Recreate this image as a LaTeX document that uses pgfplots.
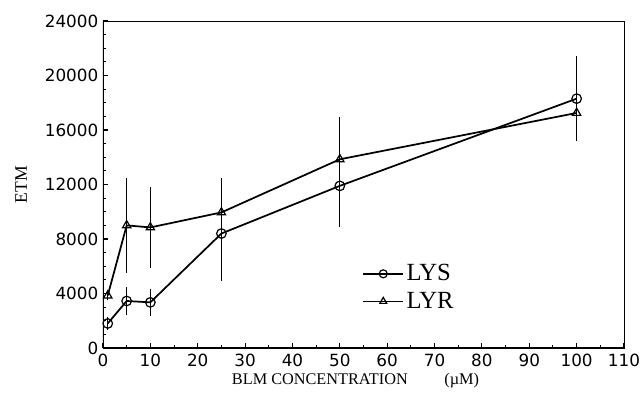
\documentclass[border=0pt]{standalone}
\usepackage{pgfplots}
\pgfplotsset{compat=1.18}
\usepackage{fontspec}
\setmainfont{Liberation Serif}
\newfontfamily\tickfont{DejaVu Sans}
\begin{document}
\begin{tikzpicture}
\begin{axis}[
  at={(0,0)}, anchor=south west,
  scale only axis,
  width=390.75pt, height=245.25pt,
  xmin=0, xmax=110, ymin=0, ymax=24000,
  xtick={0,10,...,110}, minor x tick num=1,
  ytick={0,4000,...,24000}, minor y tick num=3,
  tick pos=left, tick align=inside,
  major tick length=4pt, minor tick length=2.5pt,
  every tick/.style={black, line width=0.8pt},
  scaled y ticks=false,
  /pgf/number format/assume math mode=true,
  /pgf/number format/1000 sep={},
  ticklabel style={font=\tickfont\fontsize{12.6pt}{14pt}\selectfont},
  xticklabel style={yshift=-1pt},
  axis line style={line width=0.6pt},
  xlabel={BLM CONCENTRATION\quad\ \ \ \ \ (\textmu M)},
  ylabel={ETM},
  xlabel style={font=\fontsize{12.2pt}{14pt}\selectfont, at={(axis description cs:0.5,0)}, anchor=center, yshift=-24.75pt, xshift=-6pt},
  ylabel style={font=\fontsize{13.2pt}{15pt}\selectfont, at={(axis description cs:-0.157,0.5)}, anchor=center},
  legend style={at={(0.49,0.272)}, anchor=north west, draw=none, fill=none,
    font=\fontsize{18.5pt}{21pt}\selectfont, row sep=3pt},
  legend cell align=left,
  legend image code/.code={
    \draw[#1, line width=1.2pt] (0cm,0cm) -- (1.05cm,0cm);
    \draw[#1, only marks, mark size=3pt] plot coordinates {(0.525cm,0cm)};
  },
]
\addplot[black, line width=1.3pt, mark=o, mark size=3.6pt, mark options={line width=0.9pt},
  error bars/.cd, y dir=both, y explicit, error mark=none,
  error bar style={line width=0.6pt}]
  table[x=x, y=y, y error=e] {
x y e
1 1800 500
5 3450 1000
10 3350 1000
25 8400 3500
50 11900 3000
100 18300 3100
};
\addlegendentry{LYS}
\addplot[black, line width=1.3pt, mark=triangle, mark size=3.6pt, mark options={line width=0.9pt},
  error bars/.cd, y dir=both, y explicit, error mark=none,
  error bar style={line width=0.6pt}]
  table[x=x, y=y, y error=e] {
x y e
1 3850 300
5 9000 3500
10 8850 3000
25 9950 2500
50 13850 3100
100 17250 1950
};
\addlegendentry{LYR}
\draw[line width=1.6pt] (rel axis cs:0,1) -- (rel axis cs:0,0) -- (rel axis cs:1,0);
\end{axis}
\pgfresetboundingbox
\path[use as bounding box] (-77.25pt,-41.25pt) rectangle (404.25pt,261pt);
\end{tikzpicture}
\end{document}
